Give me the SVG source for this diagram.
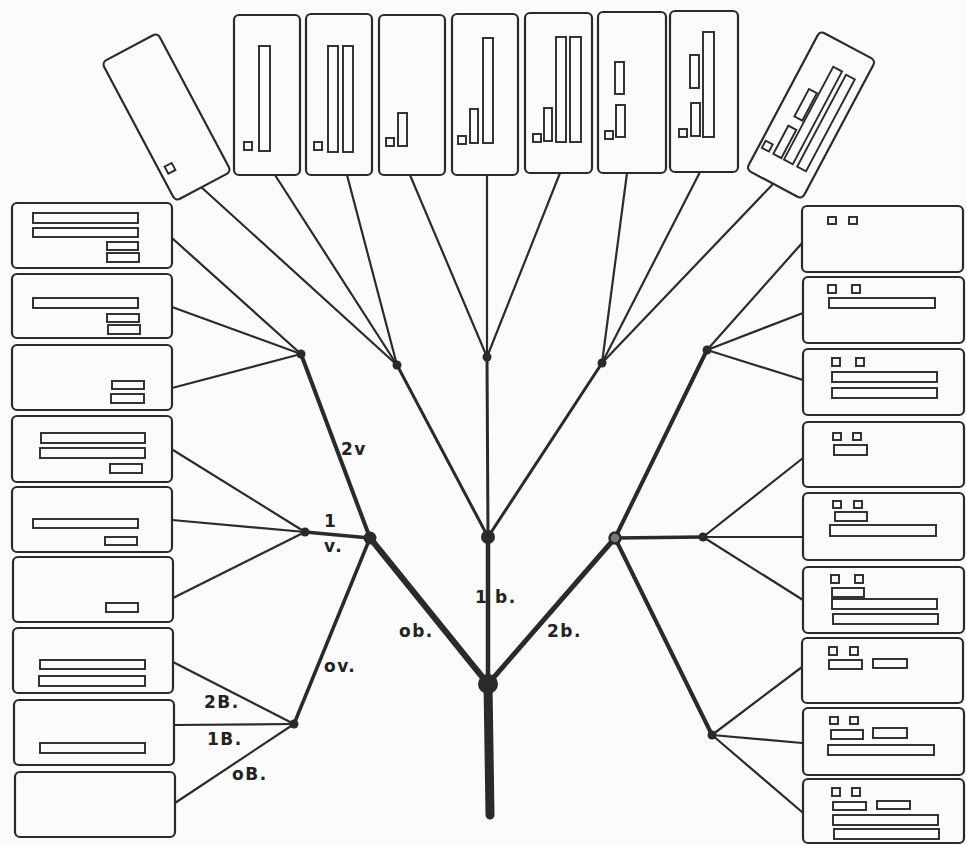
<svg xmlns="http://www.w3.org/2000/svg" width="966" height="845" viewBox="0 0 966 845">
  <style>
    .box { fill: #fbfbfb; stroke: #2a2a2a; stroke-width: 2.2; }
    .bar { fill: #fbfbfb; stroke: #2a2a2a; stroke-width: 1.9; }
    .edge { stroke: #2b2b2b; stroke-width: 2.2; stroke-linecap: round; fill: none; }
    .stem { stroke: #2a2a2a; stroke-linecap: round; fill: none; }
    .node { fill: #2a2a2a; }
    .lbl { font-family: "DejaVu Sans", "Liberation Sans", sans-serif; font-weight: bold; font-size: 17px; fill: #222; letter-spacing: 1.5px; }
  </style>
  <rect width="966" height="845" fill="#fbfbfb"/>

  <!-- connectors -->
  <g id="connectors">
    <!-- thin leaf links -->
    <line class="edge" x1="200" y1="186" x2="397" y2="365"/>
    <line class="edge" x1="275" y1="175" x2="397" y2="365"/>
    <line class="edge" x1="347" y1="175" x2="397" y2="365"/>
    <line class="edge" x1="410" y1="175" x2="487" y2="357"/>
    <line class="edge" x1="487" y1="174" x2="487" y2="357"/>
    <line class="edge" x1="560" y1="173" x2="487" y2="357"/>
    <line class="edge" x1="627" y1="173" x2="602" y2="363"/>
    <line class="edge" x1="700" y1="172" x2="602" y2="363"/>
    <line class="edge" x1="772" y1="185" x2="602" y2="363"/>
    <line class="edge" x1="172" y1="238" x2="301" y2="354"/>
    <line class="edge" x1="172" y1="307" x2="301" y2="354"/>
    <line class="edge" x1="172" y1="388" x2="301" y2="354"/>
    <line class="edge" x1="803" y1="242" x2="707" y2="350"/>
    <line class="edge" x1="803" y1="313" x2="707" y2="350"/>
    <line class="edge" x1="803" y1="380" x2="707" y2="350"/>
    <line class="edge" x1="173" y1="450" x2="305" y2="532"/>
    <line class="edge" x1="172" y1="520" x2="305" y2="532"/>
    <line class="edge" x1="173" y1="598" x2="305" y2="532"/>
    <line class="edge" x1="803" y1="458" x2="703" y2="537"/>
    <line class="edge" x1="803" y1="537" x2="703" y2="537"/>
    <line class="edge" x1="803" y1="600" x2="703" y2="537"/>
    <line class="edge" x1="173" y1="662" x2="294" y2="724"/>
    <line class="edge" x1="174" y1="725" x2="294" y2="724"/>
    <line class="edge" x1="175" y1="803" x2="294" y2="724"/>
    <line class="edge" x1="802" y1="667" x2="712" y2="735"/>
    <line class="edge" x1="802" y1="743" x2="712" y2="735"/>
    <line class="edge" x1="802" y1="812" x2="712" y2="735"/>
    <!-- branches -->
    <line class="stem" stroke-width="9" x1="490" y1="815" x2="488" y2="684"/>
    <line class="stem" stroke-width="6" x1="488" y1="684" x2="370" y2="538"/>
    <line class="stem" stroke-width="4.5" x1="488" y1="684" x2="488" y2="537"/>
    <line class="stem" stroke-width="5" x1="488" y1="684" x2="615" y2="538"/>
    <line class="stem" stroke-width="3" x1="488" y1="537" x2="397" y2="365"/>
    <line class="stem" stroke-width="3" x1="488" y1="537" x2="487" y2="357"/>
    <line class="stem" stroke-width="3" x1="488" y1="537" x2="602" y2="363"/>
    <line class="stem" stroke-width="4" x1="370" y1="538" x2="301" y2="354"/>
    <line class="stem" stroke-width="3.5" x1="370" y1="538" x2="305" y2="532"/>
    <line class="stem" stroke-width="3.5" x1="370" y1="538" x2="294" y2="724"/>
    <line class="stem" stroke-width="4" x1="615" y1="538" x2="707" y2="350"/>
    <line class="stem" stroke-width="3.5" x1="615" y1="538" x2="703" y2="537"/>
    <line class="stem" stroke-width="4" x1="615" y1="538" x2="712" y2="735"/>
    <!-- junctions -->
    <circle class="node" cx="488" cy="684" r="10"/>
    <circle class="node" cx="488" cy="537" r="7"/>
    <circle class="node" cx="370" cy="538" r="6.5"/>
    <circle cx="615" cy="538" r="5.5" fill="#777" stroke="#2a2a2a" stroke-width="2.5"/>
    <circle class="node" cx="301" cy="354" r="4.5"/>
    <circle class="node" cx="397" cy="365" r="4.5"/>
    <circle class="node" cx="487" cy="357" r="4.5"/>
    <circle class="node" cx="602" cy="363" r="4.5"/>
    <circle class="node" cx="707" cy="350" r="4.5"/>
    <circle class="node" cx="305" cy="532" r="4.5"/>
    <circle class="node" cx="703" cy="537" r="4.5"/>
    <circle class="node" cx="294" cy="724" r="4.5"/>
    <circle class="node" cx="712" cy="735" r="4.5"/>
    <!-- branch labels -->
    <text class="lbl" x="341" y="455">2v</text>
    <text class="lbl" x="324" y="527">1</text>
    <text class="lbl" x="324" y="552">v.</text>
    <text class="lbl" x="475" y="603">1</text>
    <text class="lbl" x="495" y="603">b.</text>
    <text class="lbl" x="399" y="637">ob.</text>
    <text class="lbl" x="547" y="637">2b.</text>
    <text class="lbl" x="324" y="672">ov.</text>
    <text class="lbl" x="204" y="708">2B.</text>
    <text class="lbl" x="207" y="745">1B.</text>
    <text class="lbl" x="232" y="780">oB.</text>
  </g>

  <!-- top row -->
  <g id="top-tilt-left" transform="translate(166.5,117) rotate(-28)">
    <rect class="box" x="-31.5" y="-78.5" width="63" height="157" rx="5"/>
    <rect class="bar" x="-25" y="43" width="8" height="8"/>
  </g>
  <g id="top-1">
    <rect class="box" x="234" y="15" width="66" height="160" rx="5"/>
    <rect class="bar" x="244" y="142" width="8" height="8"/>
    <rect class="bar" x="259" y="46" width="11" height="105"/>
  </g>
  <g id="top-2">
    <rect class="box" x="306" y="14" width="66" height="161" rx="5"/>
    <rect class="bar" x="314" y="142" width="8" height="8"/>
    <rect class="bar" x="328" y="46" width="10" height="106"/>
    <rect class="bar" x="343" y="46" width="10" height="106"/>
  </g>
  <g id="top-3">
    <rect class="box" x="379" y="15" width="66" height="160" rx="5"/>
    <rect class="bar" x="386" y="138" width="8" height="8"/>
    <rect class="bar" x="398" y="113" width="9" height="33"/>
  </g>
  <g id="top-4">
    <rect class="box" x="452" y="14" width="66" height="161" rx="5"/>
    <rect class="bar" x="458" y="136" width="8" height="8"/>
    <rect class="bar" x="470" y="109" width="8" height="34"/>
    <rect class="bar" x="483" y="38" width="10" height="105"/>
  </g>
  <g id="top-5">
    <rect class="box" x="525" y="13" width="67" height="160" rx="5"/>
    <rect class="bar" x="533" y="134" width="8" height="8"/>
    <rect class="bar" x="544" y="108" width="8" height="33"/>
    <rect class="bar" x="556" y="37" width="10" height="105"/>
    <rect class="bar" x="570" y="37" width="11" height="105"/>
  </g>
  <g id="top-6">
    <rect class="box" x="598" y="12" width="68" height="161" rx="5"/>
    <rect class="bar" x="605" y="131" width="8" height="8"/>
    <rect class="bar" x="616" y="105" width="9" height="32"/>
    <rect class="bar" x="615" y="62" width="9" height="32"/>
  </g>
  <g id="top-7">
    <rect class="box" x="670" y="11" width="68" height="161" rx="5"/>
    <rect class="bar" x="679" y="129" width="8" height="8"/>
    <rect class="bar" x="691" y="103" width="9" height="33"/>
    <rect class="bar" x="690" y="55" width="9" height="33"/>
    <rect class="bar" x="703" y="32" width="11" height="105"/>
  </g>
  <g id="top-tilt-right" transform="translate(811,115) rotate(28)">
    <rect class="box" x="-31.5" y="-78.5" width="63" height="157" rx="5"/>
    <rect class="bar" x="-28" y="44" width="8" height="8"/>
    <rect class="bar" x="-15" y="20" width="9" height="32"/>
    <rect class="bar" x="-14" y="-22" width="9" height="31"/>
    <rect class="bar" x="-3" y="-53" width="10" height="105"/>
    <rect class="bar" x="12" y="-52" width="10" height="104"/>
  </g>

  <!-- left column -->
  <g id="left-1">
    <rect class="box" x="12" y="203" width="160" height="65" rx="5"/>
    <rect class="bar" x="33" y="213" width="105" height="10"/>
    <rect class="bar" x="33" y="228" width="105" height="9"/>
    <rect class="bar" x="107" y="242" width="31" height="8"/>
    <rect class="bar" x="107" y="253" width="32" height="9"/>
  </g>
  <g id="left-2">
    <rect class="box" x="12" y="274" width="160" height="64" rx="5"/>
    <rect class="bar" x="33" y="298" width="105" height="10"/>
    <rect class="bar" x="107" y="314" width="32" height="8"/>
    <rect class="bar" x="108" y="325" width="32" height="9"/>
  </g>
  <g id="left-3">
    <rect class="box" x="12" y="345" width="160" height="65" rx="5"/>
    <rect class="bar" x="112" y="381" width="32" height="8"/>
    <rect class="bar" x="111" y="394" width="33" height="9"/>
  </g>
  <g id="left-4">
    <rect class="box" x="12" y="416" width="160" height="66" rx="5"/>
    <rect class="bar" x="41" y="433" width="104" height="10"/>
    <rect class="bar" x="40" y="448" width="105" height="10"/>
    <rect class="bar" x="110" y="464" width="32" height="9"/>
  </g>
  <g id="left-5">
    <rect class="box" x="12" y="487" width="160" height="65" rx="5"/>
    <rect class="bar" x="33" y="519" width="105" height="9"/>
    <rect class="bar" x="105" y="537" width="32" height="8"/>
  </g>
  <g id="left-6">
    <rect class="box" x="13" y="557" width="160" height="65" rx="5"/>
    <rect class="bar" x="106" y="603" width="32" height="9"/>
  </g>
  <g id="left-7">
    <rect class="box" x="13" y="628" width="160" height="65" rx="5"/>
    <rect class="bar" x="40" y="660" width="105" height="9"/>
    <rect class="bar" x="39" y="676" width="106" height="10"/>
  </g>
  <g id="left-8">
    <rect class="box" x="14" y="700" width="160" height="65" rx="5"/>
    <rect class="bar" x="40" y="743" width="105" height="10"/>
  </g>
  <g id="left-9">
    <rect class="box" x="15" y="772" width="160" height="65" rx="5"/>
  </g>

  <!-- right column -->
  <g id="right-1">
    <rect class="box" x="802" y="206" width="161" height="66" rx="5"/>
    <rect class="bar" x="828" y="217" width="8" height="7"/>
    <rect class="bar" x="849" y="217" width="8" height="7"/>
  </g>
  <g id="right-2">
    <rect class="box" x="803" y="277" width="161" height="66" rx="5"/>
    <rect class="bar" x="828" y="285" width="8" height="8"/>
    <rect class="bar" x="852" y="285" width="8" height="8"/>
    <rect class="bar" x="829" y="298" width="106" height="10"/>
  </g>
  <g id="right-3">
    <rect class="box" x="803" y="349" width="161" height="66" rx="5"/>
    <rect class="bar" x="832" y="358" width="8" height="8"/>
    <rect class="bar" x="856" y="358" width="8" height="8"/>
    <rect class="bar" x="832" y="372" width="105" height="10"/>
    <rect class="bar" x="832" y="388" width="105" height="10"/>
  </g>
  <g id="right-4">
    <rect class="box" x="803" y="422" width="161" height="65" rx="5"/>
    <rect class="bar" x="833" y="433" width="8" height="7"/>
    <rect class="bar" x="853" y="433" width="8" height="7"/>
    <rect class="bar" x="834" y="445" width="33" height="10"/>
  </g>
  <g id="right-5">
    <rect class="box" x="803" y="493" width="161" height="67" rx="5"/>
    <rect class="bar" x="833" y="501" width="8" height="7"/>
    <rect class="bar" x="854" y="501" width="8" height="7"/>
    <rect class="bar" x="835" y="512" width="32" height="9"/>
    <rect class="bar" x="830" y="525" width="106" height="11"/>
  </g>
  <g id="right-6">
    <rect class="box" x="803" y="567" width="161" height="66" rx="5"/>
    <rect class="bar" x="831" y="575" width="8" height="8"/>
    <rect class="bar" x="855" y="575" width="8" height="8"/>
    <rect class="bar" x="832" y="588" width="32" height="9"/>
    <rect class="bar" x="832" y="599" width="105" height="10"/>
    <rect class="bar" x="833" y="614" width="105" height="10"/>
  </g>
  <g id="right-7">
    <rect class="box" x="802" y="638" width="161" height="65" rx="5"/>
    <rect class="bar" x="829" y="647" width="8" height="8"/>
    <rect class="bar" x="850" y="647" width="8" height="8"/>
    <rect class="bar" x="829" y="660" width="33" height="9"/>
    <rect class="bar" x="873" y="659" width="34" height="9"/>
  </g>
  <g id="right-8">
    <rect class="box" x="803" y="708" width="161" height="67" rx="5"/>
    <rect class="bar" x="830" y="717" width="8" height="7"/>
    <rect class="bar" x="850" y="717" width="8" height="7"/>
    <rect class="bar" x="831" y="730" width="32" height="9"/>
    <rect class="bar" x="873" y="728" width="34" height="10"/>
    <rect class="bar" x="828" y="745" width="106" height="10"/>
  </g>
  <g id="right-9">
    <rect class="box" x="803" y="779" width="161" height="64" rx="5"/>
    <rect class="bar" x="832" y="788" width="8" height="8"/>
    <rect class="bar" x="852" y="788" width="8" height="8"/>
    <rect class="bar" x="833" y="802" width="33" height="8"/>
    <rect class="bar" x="877" y="801" width="33" height="8"/>
    <rect class="bar" x="833" y="815" width="105" height="10"/>
    <rect class="bar" x="834" y="829" width="105" height="10"/>
  </g>
</svg>
